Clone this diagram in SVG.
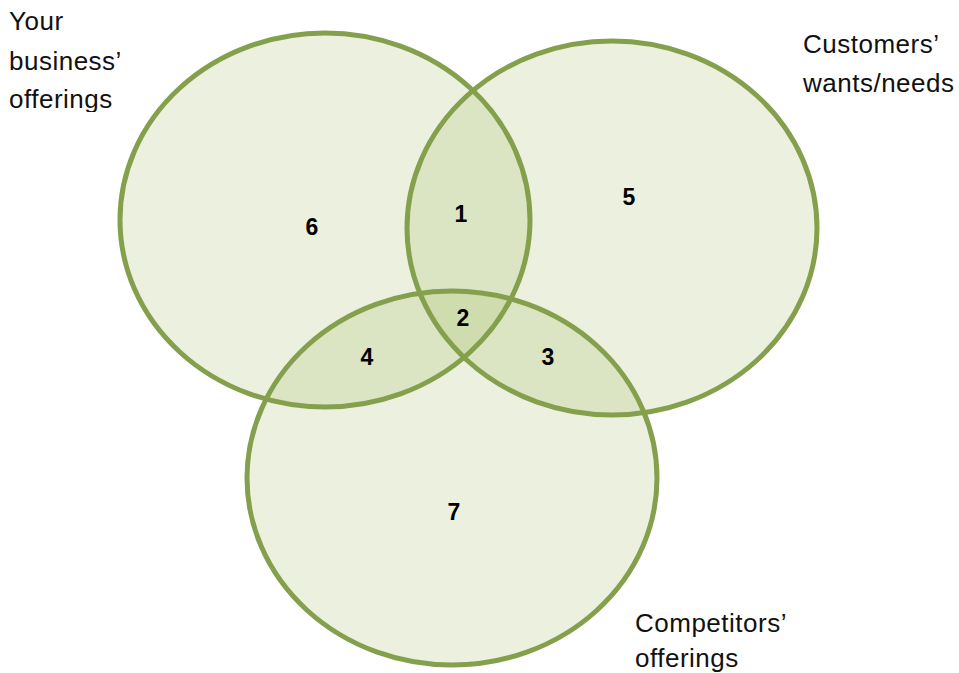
<svg xmlns="http://www.w3.org/2000/svg" width="959" height="673" viewBox="0 0 959 673">
  <style>
    .fill { fill: #9bbb59; fill-opacity: 0.2; stroke: none; }
    .ring { fill: none; stroke: #84a04c; stroke-width: 5; }
    .label { font-family: "Liberation Sans", Arial, sans-serif; font-size: 26px; letter-spacing: 0.5px; fill: #111; }
    .num { font-family: "Liberation Sans", Arial, sans-serif; font-size: 23px; font-weight: bold; fill: #000; text-anchor: middle; }
  </style>
  <defs>
    <clipPath id="topLeftClip">
      <rect x="0" y="0" width="300" height="112"/>
    </clipPath>
  </defs>
  <rect width="959" height="673" fill="#fff"/>

  <!-- translucent set fills, overlaps darken -->
  <g id="fills">
    <ellipse class="fill" cx="325" cy="220" rx="205" ry="187"/>
    <ellipse class="fill" cx="612" cy="228" rx="205" ry="187"/>
    <ellipse class="fill" cx="452" cy="478" rx="205" ry="187"/>
  </g>

  <!-- set outlines -->
  <g id="business">
    <ellipse class="ring" cx="325" cy="220" rx="205" ry="187"/>
    <text class="label" clip-path="url(#topLeftClip)"><tspan x="9" y="30">Your</tspan><tspan x="9" y="70">business’</tspan><tspan x="9" y="108">offerings</tspan></text>
  </g>
  <g id="customers">
    <ellipse class="ring" cx="612" cy="228" rx="205" ry="187"/>
    <text class="label"><tspan x="803" y="53">Customers’</tspan><tspan x="803" y="92">wants/needs</tspan></text>
  </g>
  <g id="competitors">
    <ellipse class="ring" cx="452" cy="478" rx="205" ry="187"/>
    <text class="label"><tspan x="635" y="632">Competitors’</tspan><tspan x="635" y="667">offerings</tspan></text>
  </g>

  <!-- region numbers -->
  <g id="regions">
    <text class="num" x="461" y="222">1</text>
    <text class="num" x="463" y="326">2</text>
    <text class="num" x="548" y="365">3</text>
    <text class="num" x="367" y="365">4</text>
    <text class="num" x="629" y="205">5</text>
    <text class="num" x="312" y="235">6</text>
    <text class="num" x="454" y="520">7</text>
  </g>
</svg>
